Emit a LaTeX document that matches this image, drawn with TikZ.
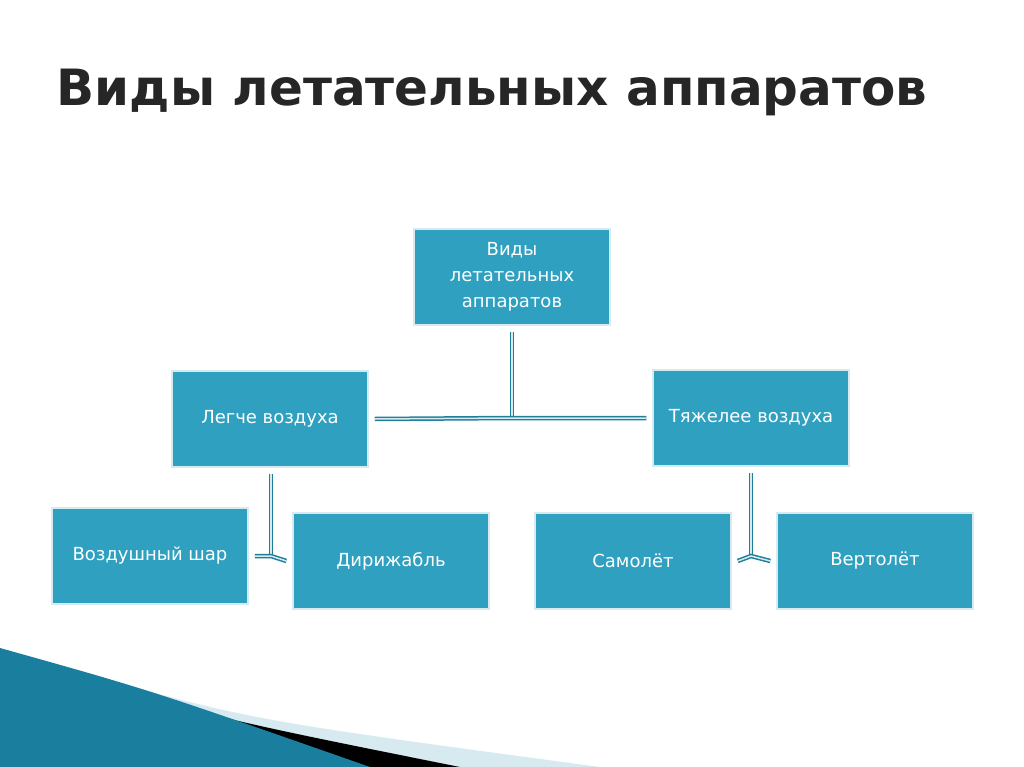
\documentclass[tikz,border=0pt]{standalone}
\usepackage{fontspec}
\setmainfont{DejaVu Sans}
\definecolor{boxblue}{HTML}{2FA0C0}
\definecolor{lineblue}{HTML}{1F7F9A}
\definecolor{paleblue}{HTML}{D6EAF0}
\definecolor{deepblue}{HTML}{1A7F9E}
\begin{document}
\begin{tikzpicture}
[x=1pt,y=-1pt,
box/.style = {draw=paleblue, line width=1.5pt, fill=boxblue, text=white, minimum width=196pt, minimum height=96pt, align=center, font=\fontsize{18}{26}\selectfont},
link/.style = {draw=lineblue, double=paleblue, double distance=1.5pt, line width=1.5pt},]
\useasboundingbox (0,0) rectangle (1024,767);
% corner decoration
\fill[paleblue] (80,672) .. controls (250,720) .. (600,767) -- (0,767) -- cycle;
\fill[black] (40,660) .. controls (200,715) .. (460,767) -- (0,767) -- cycle;
\fill[deepblue] (0,648) .. controls (150,690) .. (370,767) -- (0,767) -- cycle;
% title
\node (title) at (492,92)[text=gray!30!black, font=\fontsize{50}{60}\selectfont\bfseries] {Виды летательных аппаратов};
% boxes
\node (root) at (512,277)[box] {Виды\\летательных\\аппаратов};
\node (light) at (270,419)[box] {Легче воздуха};
\node (heavy) at (751,418)[box] {Тяжелее воздуха};
\node (balloon) at (150,556)[box] {Воздушный шар};
\node (airship) at (391,561)[box] {Дирижабль};
\node (plane) at (633,561)[box] {Самолёт};
\node (heli) at (875,561)[box] {Вертолёт};
\coordinate (hub) at (512,418);
\coordinate (lhub) at (271,556);
\coordinate (rhub) at (751,556);
\draw[link] (root.south) ++(0,6) -- (hub);
\draw[link] (light.east) ++(6,0) -- (hub) -- ([xshift=-6pt]heavy.west);
\draw[link] (light.south) ++(1,6) -- (lhub);
\draw[link] ([xshift=6pt]balloon.east) -- (lhub) -- ([xshift=-6pt]airship.west);
\draw[link] (heavy.south) ++(0,6) -- (rhub);
\draw[link] ([xshift=6pt]plane.east) -- (rhub) -- ([xshift=-6pt]heli.west);
\end{tikzpicture}
\end{document}
